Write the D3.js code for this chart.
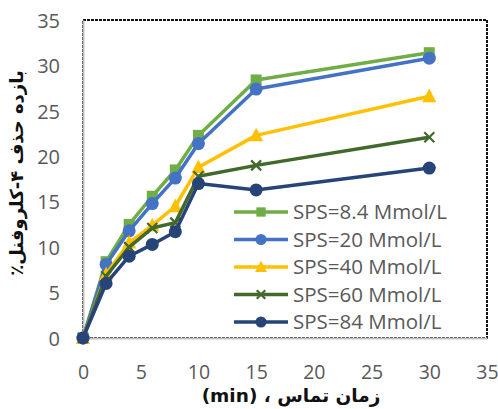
<!DOCTYPE html>
<html>
<head>
<meta charset="utf-8">
<script src="https://cdn.jsdelivr.net/npm/d3@7"></script>
<style>
  html, body { margin: 0; padding: 0; background: #fff; }
  svg { display: block; }
</style>
</head>
<body>
<div id="chart"></div>
<script>
// Contact time (min)
const times = [0, 2, 4, 6, 8, 10, 15, 30];

// Removal efficiency (%) for each SPS concentration
const sps84a = [0, 8.4, 12.5, 15.6, 18.5, 22.3, 28.4, 31.4];
const sps20  = [0, 8.1, 11.8, 14.8, 17.6, 21.4, 27.4, 30.8];
const sps40  = [0, 7.0, 10.5, 12.4, 14.5, 18.8, 22.3, 26.6];
const sps60  = [0, 6.8, 10.0, 12.1, 12.7, 17.8, 19.0, 22.1];
const sps84  = [0, 6.0, 9.0, 10.3, 11.7, 17.0, 16.3, 18.7];

const seriesNames = ["SPS=8.4 Mmol/L", "SPS=20 Mmol/L", "SPS=40 Mmol/L", "SPS=60 Mmol/L", "SPS=84 Mmol/L"];
const seriesValues = [sps84a, sps20, sps40, sps60, sps84];
const seriesColors = ["#70AD47", "#4472C4", "#FFC000", "#43682B", "#264478"];
const seriesSymbols = ["square", "circle", "triangle", "cross", "circle"];

const xTicks = [0, 5, 10, 15, 20, 25, 30, 35];
const yTicks = [0, 5, 10, 15, 20, 25, 30, 35];

const yTitle = "بازده حذف ۴-کلروفنل٪";
const xTitle = "زمان تماس ، (min)";

const W = 498, H = 409;
const plot = { left: 83, right: 487, top: 20, bottom: 338 };

const svg = d3.select("#chart").append("svg")
  .attr("width", W).attr("height", H);

const x = d3.scaleLinear().domain([0, 35]).range([plot.left, plot.right]);
const y = d3.scaleLinear().domain([0, 35]).range([plot.bottom, plot.top]);

// Plot frame
svg.append("rect")
  .attr("x", plot.left).attr("y", plot.top)
  .attr("width", plot.right - plot.left).attr("height", plot.bottom - plot.top)
  .attr("fill", "none").attr("stroke", "#111").attr("stroke-width", 2)
  .attr("stroke-dasharray", "3,1");

// Axes (line + labels)
const xAxis = d3.axisBottom(x).tickValues(xTicks).tickSize(0).tickPadding(0);
const gx = svg.append("g").attr("transform", `translate(0,${plot.bottom})`).call(xAxis);
gx.select(".domain").attr("stroke", "#BFBFBF").attr("stroke-width", 2);
gx.selectAll("text")
  .attr("dy", null).attr("y", 41)
  .attr("font-family", "'Open Sans', sans-serif").attr("font-size", 19.5)
  .attr("fill", "#595959");

const yAxis = d3.axisLeft(y).tickValues(yTicks).tickSize(0).tickPadding(0);
const gy = svg.append("g").attr("transform", `translate(${plot.left},0)`).call(yAxis);
gy.select(".domain").attr("stroke", "#BFBFBF").attr("stroke-width", 2);
gy.selectAll("text")
  .attr("x", -23).attr("dy", "0.36em")
  .attr("font-family", "'Open Sans', sans-serif").attr("font-size", 20)
  .attr("fill", "#595959");

// Marker shapes
function drawMarker(g, kind, cx, cy, color, scale) {
  const s = scale || 1;
  if (kind === "square") {
    const a = 11 * s;
    g.append("rect").attr("x", cx - a / 2).attr("y", cy - a / 2)
      .attr("width", a).attr("height", a).attr("fill", color);
  } else if (kind === "circle") {
    g.append("circle").attr("cx", cx).attr("cy", cy).attr("r", 6.5 * s).attr("fill", color);
  } else if (kind === "triangle") {
    const a = 14 * s;
    g.append("path")
      .attr("d", `M${cx},${cy - a * 0.55} L${cx + a / 2},${cy + a * 0.42} L${cx - a / 2},${cy + a * 0.42} Z`)
      .attr("fill", color);
  } else if (kind === "cross") {
    const a = 5 * s;
    g.append("path")
      .attr("d", `M${cx - a},${cy - a} L${cx + a},${cy + a} M${cx - a},${cy + a} L${cx + a},${cy - a}`)
      .attr("stroke", color).attr("stroke-width", 2.2).attr("fill", "none");
  }
}

// Series lines and markers
const line = d3.line().x((d, i) => x(times[i])).y(d => y(d));
seriesValues.forEach((vals, k) => {
  const g = svg.append("g");
  g.append("path").datum(vals)
    .attr("d", line)
    .attr("fill", "none").attr("stroke", seriesColors[k])
    .attr("stroke-width", 3.5).attr("stroke-linejoin", "round");
  vals.forEach((v, i) => drawMarker(g, seriesSymbols[k], x(times[i]), y(v), seriesColors[k], 1));
});

// Legend
const legend = svg.append("g");
const legY0 = 212, legStep = 27.5;
seriesNames.forEach((name, k) => {
  const ly = legY0 + k * legStep;
  legend.append("line")
    .attr("x1", 234).attr("x2", 288).attr("y1", ly).attr("y2", ly)
    .attr("stroke", seriesColors[k]).attr("stroke-width", 3.5);
  drawMarker(legend, seriesSymbols[k], 261, ly, seriesColors[k], 0.85);
  legend.append("text")
    .attr("x", 293).attr("y", ly).attr("dy", "0.36em")
    .attr("font-family", "'Open Sans', sans-serif").attr("font-size", 20.5)
    .attr("fill", "#595959")
    .text(name);
});

// Axis titles
svg.append("text")
  .attr("transform", `translate(17,173) rotate(-90)`)
  .attr("text-anchor", "middle").attr("dy", "0.36em")
  .attr("direction", "rtl")
  .attr("font-family", "'DejaVu Sans', sans-serif").attr("font-weight", "bold")
  .attr("font-size", 18).attr("fill", "#111")
  .text(yTitle);

svg.append("text")
  .attr("x", 291).attr("y", 395).attr("dy", "0.36em")
  .attr("text-anchor", "middle")
  .attr("direction", "rtl")
  .attr("font-family", "'DejaVu Sans', sans-serif").attr("font-weight", "bold")
  .attr("font-size", 18.5).attr("fill", "#111")
  .text(xTitle);
</script>
</body>
</html>
